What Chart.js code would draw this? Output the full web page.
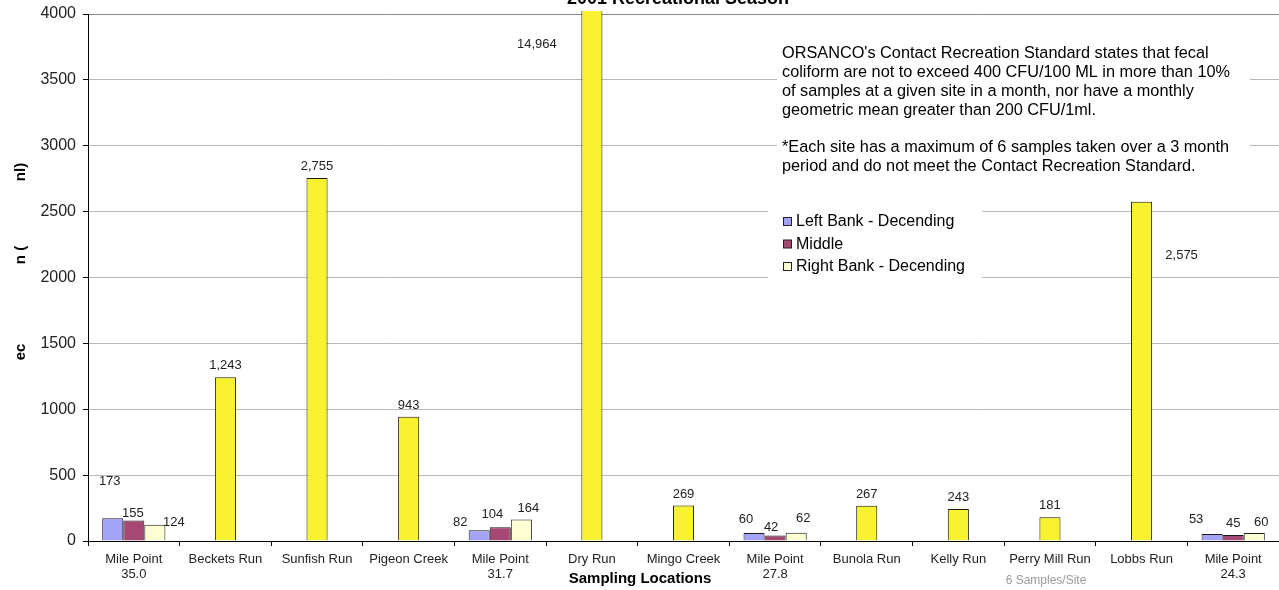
<!DOCTYPE html>
<html>
<head>
<meta charset="utf-8">
<script src="https://cdn.jsdelivr.net/npm/chart.js@4.4.1/dist/chart.umd.min.js"></script>
<style>
  html, body { margin: 0; padding: 0; background: #fff; }
  #wrap { width: 1279px; height: 590px; position: relative; }
</style>
</head>
<body>
<div id="wrap"><canvas id="chart" width="1279" height="590"></canvas></div>
<script>
// Sampling sites along the river
const locations = [
  ["Mile Point", "35.0"], "Beckets Run", "Sunfish Run", "Pigeon Creek",
  ["Mile Point", "31.7"], "Dry Run", "Mingo Creek", ["Mile Point", "27.8"],
  "Bunola Run", "Kelly Run", "Perry Mill Run", "Lobbs Run", ["Mile Point", "24.3"]
];

// Main-stem readings, by bank position
const leftBank  = [173, null, null, null,  82, null, null, 60, null, null, null, null, 53];
const middle    = [155, null, null, null, 104, null, null, 42, null, null, null, null, 45];
const rightBank = [124, null, null, null, 164, null, null, 62, null, null, null, null, 60];

// Tributary readings
const tributaries = [null, 1243, 2755, 943, null, 14964, 269, null, 267, 243, 181, 2575, null];

const seriesNames = ["Left Bank - Decending", "Middle", "Right Bank - Decending"];

const yMin = 0;
const yMax = 4000;
const yStep = 500;

const chartTitle = "2001 Recreational Season";
const xTitle = "Sampling Locations";
const footNote = "6 Samples/Site";
const yTitleParts = ["ec", "n (", "nl)"];

const noteLines = [
  "ORSANCO's Contact Recreation Standard states that fecal",
  "coliform are not to exceed 400 CFU/100 ML in more than 10%",
  "of samples at a given site in a month, nor have a monthly",
  "geometric mean greater than 200 CFU/1ml.",
  "",
  "*Each site has a maximum of 6 samples taken over a 3 month",
  "period and do not meet the Contact Recreation Standard."
];

// Per-label nudges (dataset index -> bar index -> [dx, dy] in px)
const labelNudge = {
  0: { 0: [-3, -25], 4: [-19, 4], 7: [-8, -2.5], 12: [-16, -3.5] },
  1: { 0: [-1, 4], 4: [-8, -1], 7: [-4, 3.5], 12: [0, -0.5] },
  2: { 0: [19, 9], 4: [7, 1], 7: [7, -2.5], 12: [7, 0.5] },
  3: { 5: [-55, 41.5], 11: [40, 65.5] }
};

const FONT = '"Liberation Sans", Arial, Helvetica, sans-serif';

const decorations = {
  id: 'decorations',
  afterDatasetsDraw(chart) {
    const ctx = chart.ctx;
    const area = chart.chartArea;
    ctx.save();
    ctx.font = '13px ' + FONT;
    ctx.fillStyle = '#222';
    ctx.textAlign = 'center';
    ctx.textBaseline = 'middle';
    chart.data.datasets.forEach((ds, di) => {
      const meta = chart.getDatasetMeta(di);
      meta.data.forEach((bar, i) => {
        const v = ds.data[i];
        if (v == null) return;
        const n = (labelNudge[di] && labelNudge[di][i]) || [0, 0];
        const top = Math.max(bar.y, area.top);
        ctx.fillText(v.toLocaleString('en-US'), bar.x + n[0], top - 11.5 + n[1]);
      });
    });
    ctx.restore();
  },
  afterDraw(chart) {
    const ctx = chart.ctx;
    ctx.save();

    // Title (runs off the top edge)
    ctx.font = 'bold 18px ' + FONT;
    ctx.fillStyle = '#000';
    ctx.textAlign = 'center';
    ctx.textBaseline = 'alphabetic';
    ctx.fillText(chartTitle, 678, 4);

    // Vertical axis title pieces
    ctx.font = 'bold 15px ' + FONT;
    const yPieces = [352, 255, 172];
    yTitleParts.forEach((t, k) => {
      ctx.save();
      ctx.translate(21, yPieces[k]);
      ctx.rotate(-Math.PI / 2);
      ctx.textAlign = 'center';
      ctx.textBaseline = 'middle';
      ctx.fillText(t, 0, 0);
      ctx.restore();
    });

    // Horizontal axis title and foot note
    ctx.font = 'bold 15px ' + FONT;
    ctx.textAlign = 'center';
    ctx.textBaseline = 'middle';
    ctx.fillText(xTitle, 640, 579);
    ctx.font = '12px ' + FONT;
    ctx.fillStyle = '#9a9a9a';
    ctx.fillText(footNote, 1046, 581);

    // Note box
    ctx.fillStyle = '#fff';
    ctx.fillRect(777, 38, 473, 144);
    ctx.font = '16.3px ' + FONT;
    ctx.fillStyle = '#000';
    ctx.textAlign = 'left';
    noteLines.forEach((line, k) => {
      if (line) ctx.fillText(line, 782, 54 + k * 18.7);
    });

    // Legend
    ctx.fillStyle = '#fff';
    ctx.fillRect(768, 208, 214, 73);
    const shown = chart.data.datasets.filter(d => seriesNames.includes(d.label));
    shown.forEach((d, k) => {
      const y = 222 + k * 22.5;
      ctx.fillStyle = d.backgroundColor;
      ctx.fillRect(783.5, y - 4.5, 8, 8);
      ctx.strokeStyle = '#222';
      ctx.lineWidth = 1;
      ctx.strokeRect(783.5, y - 4.5, 8, 8);
      ctx.fillStyle = '#000';
      ctx.font = '16px ' + FONT;
      ctx.fillText(d.label, 796, y);
    });

    ctx.restore();
  }
};

const yTickValues = [];
for (let v = yMin; v <= yMax; v += yStep) yTickValues.push(v);

const groupStyle = { categoryPercentage: 0.69, barPercentage: 1.0, borderWidth: 1, borderColor: '#1a1a1a' };

new Chart(document.getElementById('chart'), {
  type: 'bar',
  data: {
    labels: locations,
    datasets: [
      Object.assign({ label: seriesNames[0], data: leftBank,  backgroundColor: '#a3a3f7' }, groupStyle),
      Object.assign({ label: seriesNames[1], data: middle,    backgroundColor: '#a54873' }, groupStyle),
      Object.assign({ label: seriesNames[2], data: rightBank, backgroundColor: '#ffffd4' }, groupStyle),
      {
        label: 'Tributaries',
        data: tributaries,
        backgroundColor: '#f9f230',
        borderColor: '#1a1a08',
        borderWidth: 1,
        grouped: false,
        categoryPercentage: 0.23,
        barPercentage: 1.0,
        clip: { left: false, right: false, top: 3, bottom: false }
      }
    ]
  },
  options: {
    responsive: false,
    animation: false,
    devicePixelRatio: 1,
    layout: { padding: { top: 14, left: 0, right: 0, bottom: 0 } },
    plugins: {
      legend: { display: false },
      title: { display: false },
      tooltip: { enabled: false }
    },
    scales: {
      x: {
        offset: true,
        grid: { drawOnChartArea: false, offset: true, tickLength: 5, color: '#000' },
        border: { color: '#000', width: 1 },
        ticks: {
          autoSkip: false, maxRotation: 0, minRotation: 0, padding: 6,
          color: '#222', font: { family: FONT, size: 13, lineHeight: 1.15 }
        },
        afterFit(s) { s.height = 49; s.paddingLeft = 0; s.paddingRight = 0; }
      },
      y: {
        min: yMin,
        max: yMax,
        afterBuildTicks(s) { s.ticks = yTickValues.map(v => ({ value: v })); },
        grid: {
          color: c => (c.tick && c.tick.value === yMax) ? '#8a8a8a' : '#b8b8b8',
          tickColor: '#000', tickLength: 5
        },
        border: { color: '#000', width: 1 },
        ticks: {
          padding: 7, color: '#222', font: { family: FONT, size: 16 },
          callback: v => String(v)
        },
        afterFit(s) { s.width = 88; s.paddingTop = 0; s.paddingBottom = 0; }
      }
    }
  },
  plugins: [decorations]
});
</script>
</body>
</html>
